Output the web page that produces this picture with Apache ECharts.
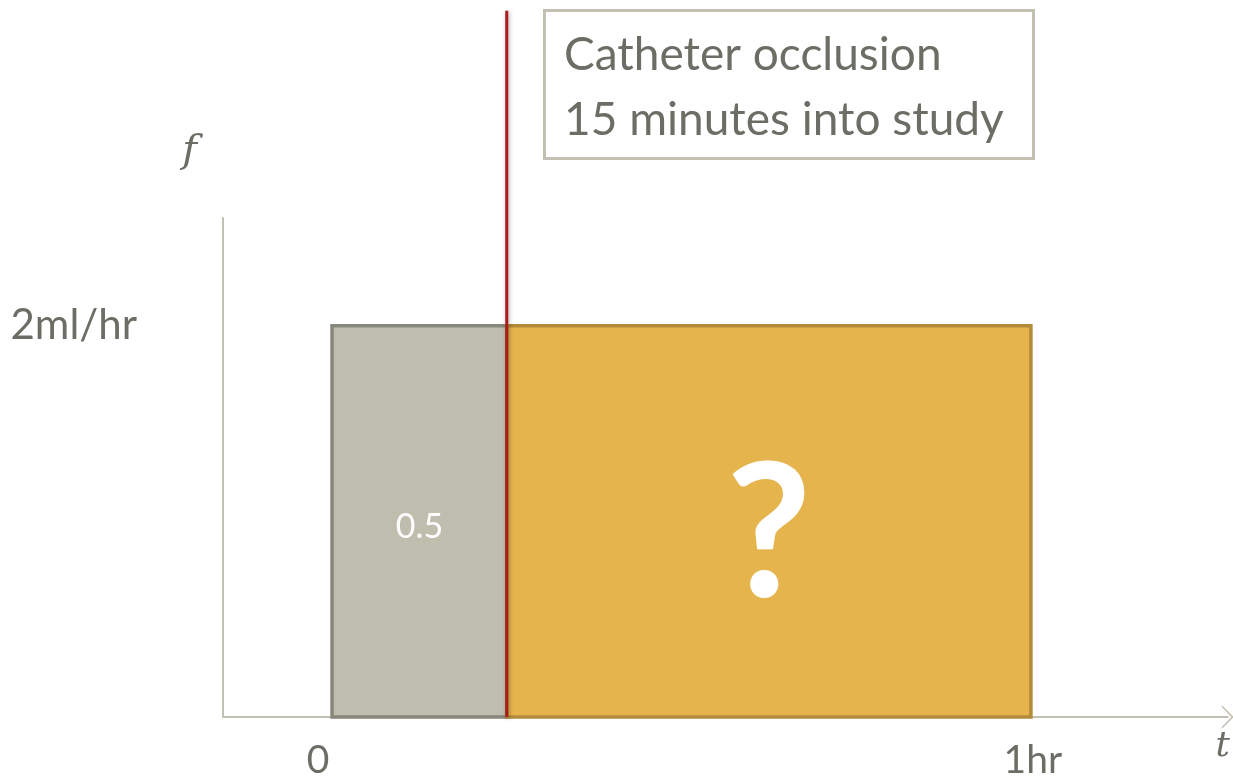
<!DOCTYPE html>
<html><head><meta charset="utf-8">
<script src="https://cdn.jsdelivr.net/npm/echarts@6/dist/echarts.min.js"></script>
<style>html,body{margin:0;padding:0;background:#fff}#c{width:1233px;height:780px}</style>
</head><body><div id="c"></div>
<script>
// ---- data ----
const segmentStart = [0, 15];          // minutes
const segmentEnd = [15, 60];           // minutes
const segmentRate = [2, 2];            // ml/hr
const segmentLabels = ['0.5', '?'];
const occlusionTime = [15, 15];        // minutes
const occlusionSpan = [0, 3.61];       // y-range of the marker line
const xTickValues = [0, 60];
const xTickLabels = ['0', '1hr'];
const yTickValues = [2];
const yTickLabels = ['2ml/hr'];
const noteLines = ['Catheter occlusion', '15 minutes into study'];

// ---- styles ----
const fills = ['#bfbdae', '#e6b44c'];
const strokes = ['#87877b', '#b48a3b'];
const labelSizes = [34, 186];
const labelWeights = ['normal', 'bold'];
const labelDy = [6, 16];
const textColor = '#6d6d65';
const axisColor = '#c2c0b2';

const chart = echarts.init(document.getElementById('c'));
const segData = segmentStart.map((s, i) => [s, segmentEnd[i], segmentRate[i], i]);

chart.setOption({
  animation: false,
  title: {
    text: noteLines.join('\n'),
    left: 544, top: 10,
    padding: [13, 30, 6, 20],
    borderWidth: 3, borderColor: axisColor,
    textStyle: { fontFamily: 'Lato', fontWeight: 'normal', fontSize: 46, lineHeight: 65, color: textColor }
  },
  grid: { left: 223, right: 5, top: 218, bottom: 62 },
  xAxis: {
    type: 'value', min: -9.36, max: 76.9,
    axisLine: { show: true, lineStyle: { color: axisColor, width: 2 },
      symbol: ['none', 'path://M0,10 L10,0 L20,10 L18.4,10 L10,2 L1.6,10 Z'], symbolSize: [24, 20], symbolOffset: [0, 0] },
    axisTick: { show: false }, splitLine: { show: false },
    axisLabel: { customValues: xTickValues,
      formatter: v => (v === xTickValues[0] ? '{a|' : '{b|') + xTickLabels[xTickValues.indexOf(v)] + '}',
      rich: { a: { padding: [0, 28, 0, 0], fontFamily: 'Lato', fontSize: 39, color: textColor },
              b: { padding: [0, 0, 0, 4], fontFamily: 'Lato', fontSize: 39, color: textColor } },
      margin: 24, fontFamily: 'Lato', fontSize: 39, color: textColor },
    name: 't', nameLocation: 'end', nameGap: -5,
    nameTextStyle: { fontFamily: 'DejaVu Serif', fontStyle: 'italic', fontSize: 36, color: textColor,
      verticalAlign: 'top', align: 'center', padding: [12, 0, 0, 0] }
  },
  yAxis: {
    type: 'value', min: 0, max: 2.551,
    axisLine: { show: true, onZero: false, lineStyle: { color: axisColor, width: 2 } },
    axisTick: { show: false }, splitLine: { show: false },
    axisLabel: { customValues: yTickValues, formatter: v => yTickLabels[yTickValues.indexOf(v)],
      margin: 86, fontFamily: 'Lato', fontSize: 42, color: textColor },
    name: 'f', nameLocation: 'end', nameGap: 46,
    nameTextStyle: { fontFamily: 'DejaVu Serif', fontStyle: 'italic', fontSize: 40, color: textColor,
      align: 'right', padding: [0, 26, 0, 0] }
  },
  series: [
    {
      type: 'custom', data: segData, clip: false, z: 2,
      renderItem: (params, api) => {
        const i = api.value(3);
        const p0 = api.coord([api.value(0), api.value(2)]);
        const p1 = api.coord([api.value(1), 0]);
        return {
          type: 'group', children: [
            { type: 'rect', shape: { x: p0[0], y: p0[1], width: p1[0] - p0[0], height: p1[1] - p0[1] },
              style: { fill: fills[i], stroke: strokes[i], lineWidth: 3.5 } },
            { type: 'text', style: { text: segmentLabels[i], x: (p0[0] + p1[0]) / 2, y: (p0[1] + p1[1]) / 2 + labelDy[i],
              align: 'center', verticalAlign: 'middle', fill: '#ffffff',
              font: labelWeights[i] + ' ' + labelSizes[i] + 'px Lato' } }
          ]
        };
      }
    },
    {
      type: 'custom', data: [[occlusionTime[0], occlusionSpan[0], occlusionTime[1], occlusionSpan[1]]], clip: false, z: 5,
      renderItem: (params, api) => {
        const a = api.coord([api.value(0), api.value(1)]);
        const b = api.coord([api.value(2), api.value(3)]);
        return { type: 'line', shape: { x1: a[0], y1: a[1], x2: b[0], y2: b[1] },
          style: { stroke: '#a91d1b', lineWidth: 3, shadowBlur: 4, shadowColor: 'rgba(0,0,0,0.35)', shadowOffsetX: 1, shadowOffsetY: 1 } };
      }
    }
  ]
});
</script></body></html>
